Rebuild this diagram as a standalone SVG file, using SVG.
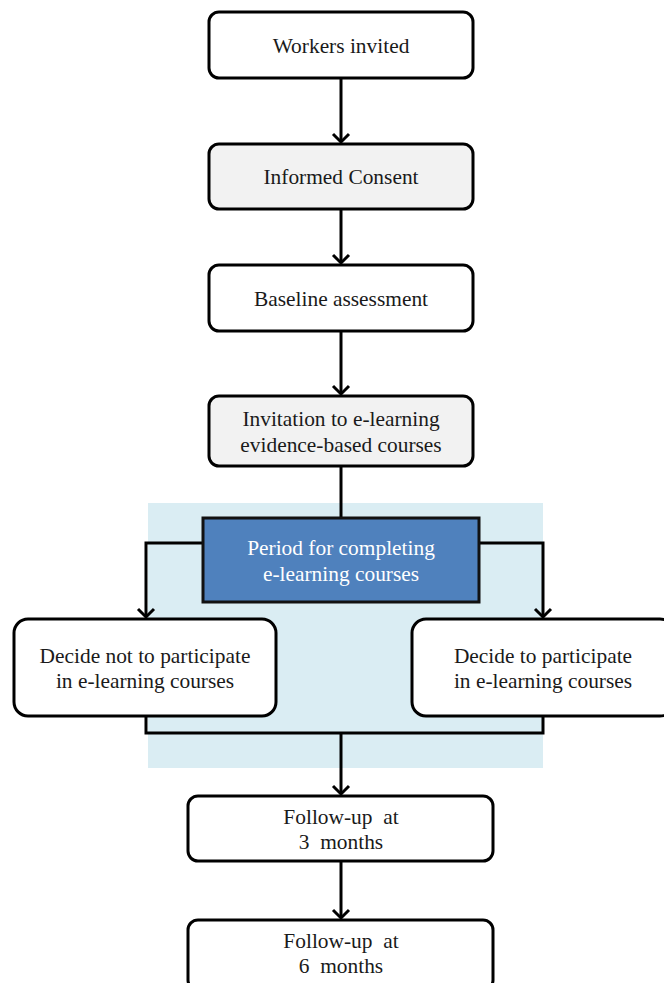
<svg xmlns="http://www.w3.org/2000/svg" width="664" height="983" viewBox="0 0 664 983">
<defs>
<style>
.box{fill:#ffffff;stroke:#000;stroke-width:3}
.gray{fill:#f2f2f2}
.t{font-family:"Liberation Serif","Times New Roman",serif;font-size:21.4px;fill:#1a1a1a;text-anchor:middle;white-space:pre}
.w{fill:#ffffff}
.ln{fill:none;stroke:#000;stroke-width:3}
</style>
<marker id="ah" markerWidth="20" markerHeight="20" refX="10" refY="10" orient="auto" markerUnits="userSpaceOnUse">
<path d="M2,2 L10,10 L2,18" fill="none" stroke="#000" stroke-width="3"/>
</marker>
</defs>
<rect x="148" y="503" width="395" height="265" fill="#daedf3"/>
<g id="connectors">
<line class="ln" x1="341" y1="78" x2="341" y2="142" marker-end="url(#ah)"/>
<line class="ln" x1="341" y1="209" x2="341" y2="263" marker-end="url(#ah)"/>
<line class="ln" x1="341" y1="331" x2="341" y2="394" marker-end="url(#ah)"/>
<line class="ln" x1="341" y1="466" x2="341" y2="518"/>
<polyline class="ln" points="203,543 146,543 146,617" marker-end="url(#ah)"/>
<polyline class="ln" points="479,543 543,543 543,617" marker-end="url(#ah)"/>
<polyline class="ln" points="146,716 146,733 543,733 543,716"/>
<line class="ln" x1="341" y1="733" x2="341" y2="794" marker-end="url(#ah)"/>
<line class="ln" x1="341" y1="861" x2="341" y2="918" marker-end="url(#ah)"/>
</g>
<g id="workers">
<rect class="box" x="209" y="12" width="264" height="66" rx="10"/>
<text class="t" x="341" y="53">Workers invited</text>
</g>
<g id="consent">
<rect class="box gray" x="209" y="144" width="264" height="65" rx="10"/>
<text class="t" x="341" y="184">Informed Consent</text>
</g>
<g id="baseline">
<rect class="box" x="209" y="265" width="264" height="66" rx="10"/>
<text class="t" x="341" y="306">Baseline assessment</text>
</g>
<g id="invitation">
<rect class="box gray" x="209" y="396" width="264" height="70" rx="10"/>
<text class="t" x="341" y="426">Invitation to e-learning</text>
<text class="t" x="341" y="452">evidence-based courses</text>
</g>
<g id="period">
<rect x="203" y="518" width="276" height="84" fill="#4f81bd" stroke="#111" stroke-width="3"/>
<text class="t w" x="341" y="555">Period for completing</text>
<text class="t w" x="341" y="581">e-learning courses</text>
</g>
<g id="notparticipate">
<rect class="box" x="14" y="619" width="262" height="97" rx="14"/>
<text class="t" x="145" y="663">Decide not to participate</text>
<text class="t" x="145" y="688">in e-learning courses</text>
</g>
<g id="participate">
<rect class="box" x="412" y="619" width="262" height="97" rx="14"/>
<text class="t" x="543" y="663">Decide to participate</text>
<text class="t" x="543" y="688">in e-learning courses</text>
</g>
<g id="followup3">
<rect class="box" x="188" y="796" width="305" height="65" rx="10"/>
<text class="t" x="341" y="824">Follow-up  at</text>
<text class="t" x="341" y="849">3  months</text>
</g>
<g id="followup6">
<rect class="box" x="188" y="920" width="305" height="70" rx="10"/>
<text class="t" x="341" y="948">Follow-up  at</text>
<text class="t" x="341" y="973">6  months</text>
</g>
</svg>
